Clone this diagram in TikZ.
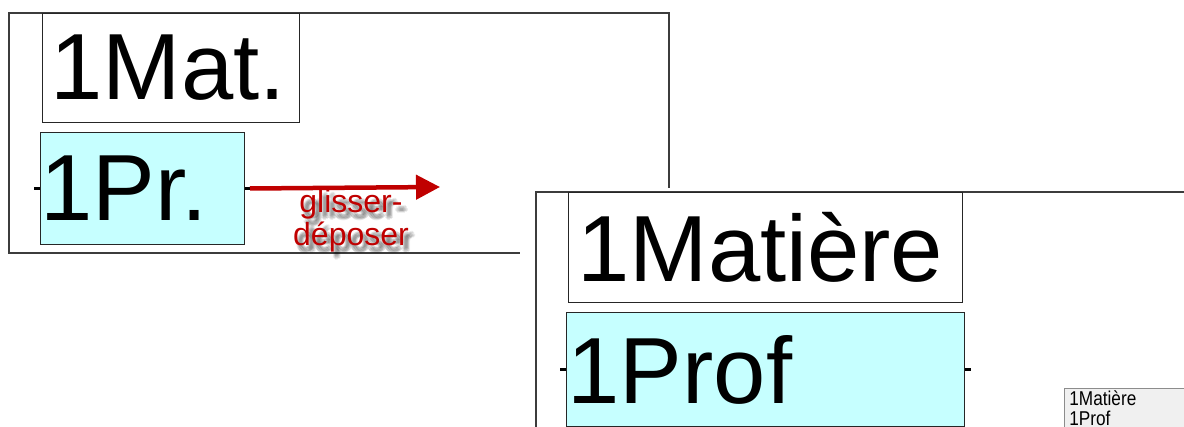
\documentclass[tikz,border=0pt]{standalone}
\usepackage{fontspec}
\setmainfont{Liberation Sans}
\newfontfamily\narrowfont[FakeStretch=0.86]{Liberation Sans}
\usetikzlibrary{arrows.meta}
\definecolor{boxcyan}{RGB}{198,255,255}
\definecolor{dragred}{RGB}{192,0,0}
\definecolor{listgray}{RGB}{240,240,240}
\definecolor{framegray}{RGB}{60,60,60}
\tikzset{
  frameline/.style={draw=framegray,line width=1.3pt},
  bigbox/.style={draw=black!85,line width=1pt,inner ysep=0pt,anchor=north west,align=left,
    font=\fontsize{94}{94}\selectfont},
  cyanbox/.style={bigbox,fill=boxcyan},
  stub/.style={draw=black,line width=3pt},
  dragarrow/.style={draw=dragred,line width=4.5pt,-{Triangle[length=24pt,width=24pt]}},
  draglabel/.style={text=dragred,align=center,font=\fontsize{32}{33}\selectfont},
  shadowlabel/.style={text=black,opacity=0.08,align=center,font=\fontsize{32}{33}\selectfont},
  listbox/.style={draw=black!45,fill=listgray,line width=0.8pt,anchor=north west,align=left,
    inner xsep=5pt,inner ysep=2pt,text width=120pt,font=\narrowfont\fontsize{20}{20}\selectfont}
}
\begin{document}
\begin{tikzpicture}[x=1pt,y=-1pt]
\useasboundingbox (0,0) rectangle (1184,427);
\clip (0,0) rectangle (1184,427);
\fill[white] (0,0) rectangle (1184,427);
% left frame
\draw[frameline] (9,13) rectangle (669,253);
% boxes of left frame
\node[bigbox,minimum width=257pt,minimum height=109pt,inner xsep=8pt,text width=241pt] (mat) at (42,13) {1Mat.};
\node[cyanbox,minimum width=204pt,minimum height=112pt,inner xsep=0pt,text width=204pt] (pr) at (40,132) {1Pr.};
\draw[stub] (pr.west) -- ++(-6,0);
\draw[stub] (pr.east) -- ++(5,0) coordinate (arrstart);
\coordinate (tip) at (440,187);
\draw[dragarrow] (arrstart) -- (tip);
% label with soft, blurred shadow
\foreach \dx/\dy in {3/4,5/6,4/5,6/7,2/6,6/4,4/8,7/6,3/7,5/3}{
  \node[shadowlabel] at (351+\dx,221+\dy) {glisser-\\déposer};
}
\node[draglabel] (drag) at (351,221) {glisser-\\déposer};
% right frame
\fill[white] (520,188) rectangle (1190,430);
\draw[frameline] (1200,192) -- (536,192) -- (536,440);
\node[bigbox,minimum width=394pt,minimum height=110pt,inner xsep=9pt,text width=376pt] (matiere) at (568,192) {1Matière};
\node[cyanbox,minimum width=398pt,minimum height=114pt,inner xsep=1pt,text width=396pt] (prof) at (566,312) {1Prof};
\draw[stub] (prof.west) -- ++(-6,0);
\draw[stub] (prof.east) -- ++(6,0);
% small list
\node[listbox] (list) at (1064,388) {1Matière\\1Prof\\ };
\end{tikzpicture}
\end{document}
